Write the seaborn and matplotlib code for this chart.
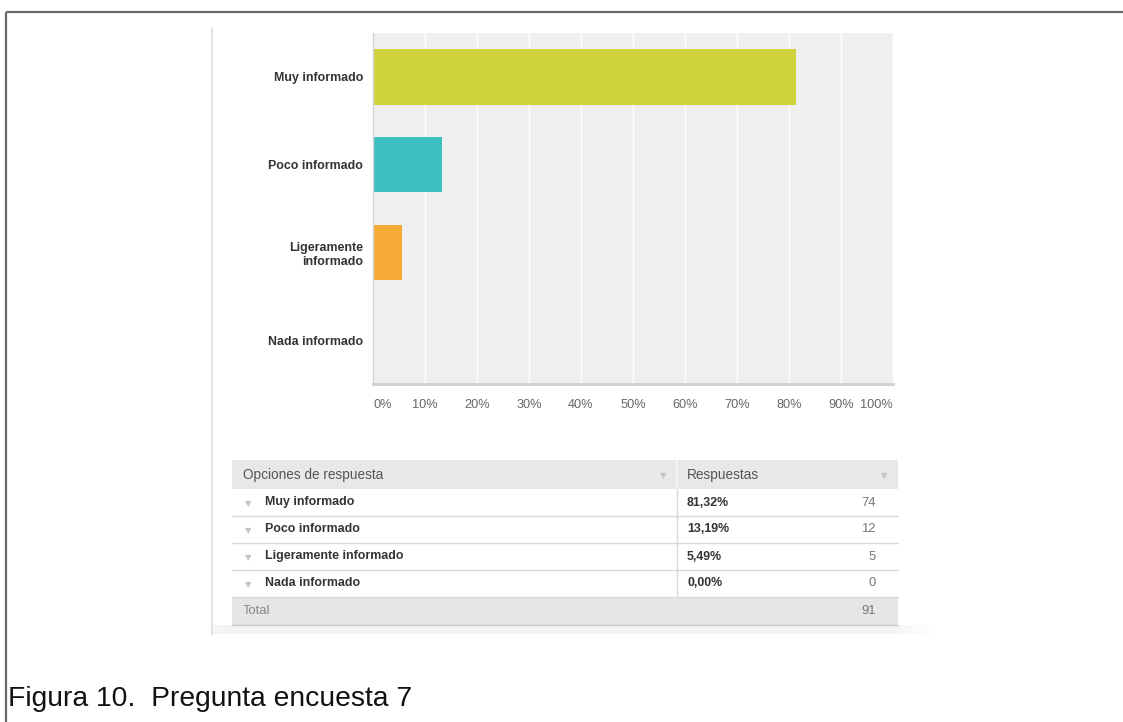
import matplotlib
matplotlib.use("Agg")
import matplotlib.pyplot as plt
from matplotlib.patches import Rectangle
import seaborn as sns
import pandas as pd

# Survey question 7: how informed respondents feel
categories = ["Muy informado", "Poco informado", "Ligeramente informado", "Nada informado"]
axis_labels = ["Muy informado", "Poco informado", "Ligeramente\ninformado", "Nada informado"]
percentages = [81.32, 13.19, 5.49, 0.00]
counts = [74, 12, 5, 0]
total = 91
bar_colors = ["#d0d43c", "#3cbfc0", "#f5ab35", "#9e9e9e"]
x_ticks = [0, 10, 20, 30, 40, 50, 60, 70, 80, 90, 100]

sns.set_theme(style="white")
plt.rcParams["font.family"] = ["Liberation Sans", "DejaVu Sans"]

W, H = 1123, 722
fig = plt.figure(figsize=(W / 100, H / 100), dpi=100)
fig.patch.set_facecolor("white")

# overlay in pixel coordinates for the frame, panel and summary table
ov = fig.add_axes([0, 0, 1, 1], zorder=0)
ov.set_xlim(0, W)
ov.set_ylim(H, 0)
ov.axis("off")

# document frame (top and left rules)
ov.plot([6, W], [12, 12], color="#6a6a6a", lw=1.6, solid_capstyle="butt")
ov.plot([6, 6], [12, H], color="#6a6a6a", lw=1.6, solid_capstyle="butt")

# screenshot panel edge and soft bottom shade fading to the right
ov.plot([212, 212], [28, 635], color="#dedede", lw=1.2)
ov.add_patch(Rectangle((213, 625), 680, 9, facecolor="#f4f4f4", edgecolor="none"))
for k in range(8):
    ov.add_patch(Rectangle((893 + k * 5, 625), 5, 9, facecolor="#f4f4f4",
                           alpha=1 - (k + 1) / 9, edgecolor="none"))

# --- bar chart ---
ax = fig.add_axes([373 / W, 1 - 384 / H, 520 / W, (384 - 33) / H], zorder=1)
df = pd.DataFrame({"categoria": axis_labels, "porcentaje": percentages})
sns.barplot(data=df, y="categoria", x="porcentaje", hue="categoria",
            palette=bar_colors, orient="h", width=0.63, legend=False, ax=ax,
            saturation=1, linewidth=0, edgecolor="none")
ax.set_facecolor("#efefef")
ax.set_xlim(0, 100)
ax.set_ylim(3.5, -0.5)
ax.set_xticks(x_ticks)
ax.set_xticklabels([f"{t}%" for t in x_ticks], color="#666666", fontsize=9.2)
ax.xaxis.grid(True, color="white", lw=1.0)
ax.set_axisbelow(True)
ax.set_xlabel("")
ax.set_ylabel("")
ax.tick_params(axis="both", length=0)
ax.tick_params(axis="x", pad=11)
ax.tick_params(axis="y", pad=7)
for lab in ax.get_yticklabels():
    lab.set_fontweight("bold")
    lab.set_fontsize(8.9)
    lab.set_color("#333333")
    lab.set_multialignment("right")
xt = ax.get_xticklabels()
xt[0].set_ha("left")
xt[-1].set_ha("right")
xt[-1].set_x(100.7)
for s in ["top", "right"]:
    ax.spines[s].set_visible(False)
ax.spines["left"].set_color("#d4d4d4")
ax.spines["left"].set_linewidth(1.0)
ax.spines["bottom"].set_color("#cfcfcf")
ax.spines["bottom"].set_linewidth(2.0)

# --- summary table ---
tx0, tx1, tdiv = 232, 898, 677
hdr_top, hdr_bot = 460, 489
row_h = 27
ov.add_patch(Rectangle((tx0, hdr_top), tx1 - tx0, hdr_bot - hdr_top,
                       facecolor="#e8e8e8", edgecolor="none"))
ov.plot([tdiv, tdiv], [hdr_top, hdr_bot], color="#f6f6f6", lw=1.2)
yc = (hdr_top + hdr_bot) / 2
ov.text(243, yc, "Opciones de respuesta", fontsize=9.8, color="#555555", va="center")
ov.text(687, yc, "Respuestas", fontsize=9.8, color="#555555", va="center")
for xarr in (663, 884):
    ov.text(xarr, yc + 1, "▼", fontsize=6, color="#c4c4c4", va="center", ha="center",
            family=["DejaVu Sans"])

for i, (name, pct, n) in enumerate(zip(categories, percentages, counts)):
    top = hdr_bot + i * row_h
    cy = top + row_h / 2
    ov.plot([tx0, tx1], [top + row_h, top + row_h], color="#d9d9d9", lw=1.0)
    ov.text(248, cy + 1, "▼", fontsize=6, color="#c4c4c4", va="center", ha="center",
            family=["DejaVu Sans"])
    ov.text(265, cy, name, fontsize=8.9, fontweight="bold", color="#333333", va="center")
    ov.text(687, cy, f"{pct:.2f}%".replace(".", ","), fontsize=8.9, fontweight="bold",
            color="#333333", va="center")
    ov.text(876, cy, str(n), fontsize=9.4, color="#777777", va="center", ha="right")

body_bot = hdr_bot + len(categories) * row_h
ov.plot([tdiv, tdiv], [hdr_bot, body_bot], color="#d9d9d9", lw=1.0)
ov.add_patch(Rectangle((tx0, body_bot + 1), tx1 - tx0, 27,
                       facecolor="#e6e6e6", edgecolor="none"))
ov.plot([tx0, tx1], [body_bot + 28, body_bot + 28], color="#cccccc", lw=1.0)
ov.text(243, body_bot + 14.5, "Total", fontsize=9.4, color="#888888", va="center")
ov.text(876, body_bot + 14.5, str(total), fontsize=9.4, color="#777777", va="center",
        ha="right")

# caption
ov.text(8, 699, "Figura 10.  Pregunta encuesta 7", fontsize=20.3, color="#111111",
        va="center", ha="left")

fig.savefig("out.png", dpi=100, facecolor="white")
